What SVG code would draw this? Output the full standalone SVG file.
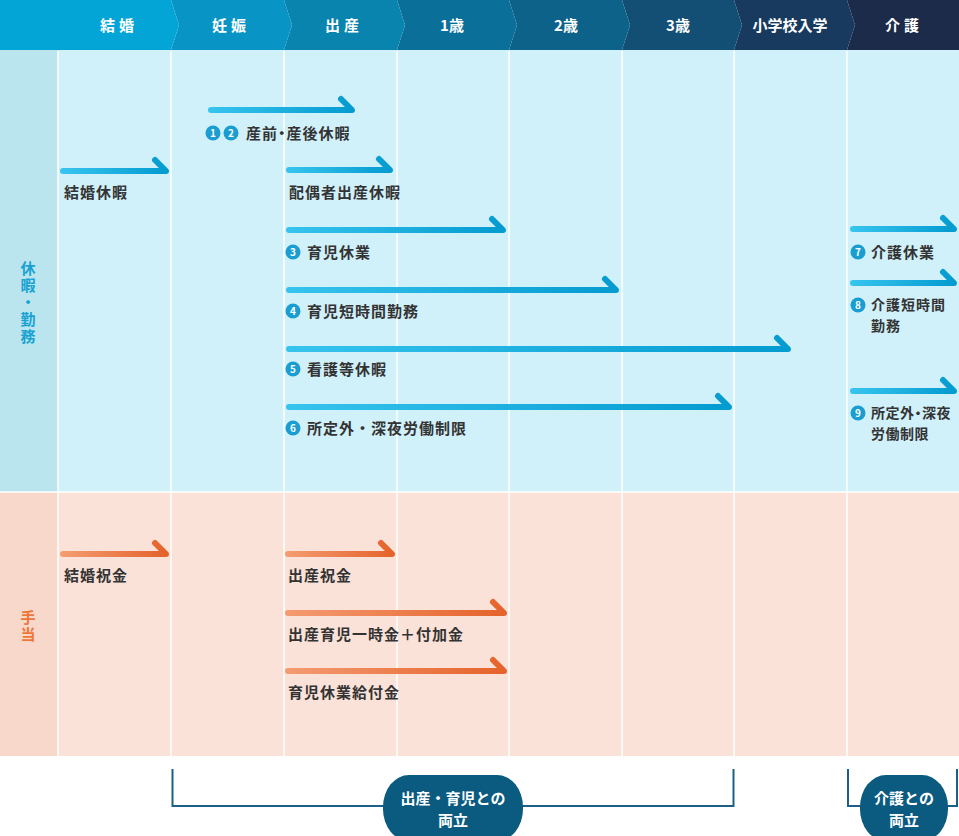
<svg xmlns="http://www.w3.org/2000/svg" width="959" height="836" viewBox="0 0 959 836">
<style>
text{font-family:"Noto Sans CJK JP","Noto Sans",sans-serif;font-weight:700}
.hd{fill:#fff;font-size:15px;text-anchor:middle}
.lb{fill:#333;font-size:15px;letter-spacing:1px}
.l2{font-size:14px}
.pa{font-feature-settings:"palt"}
.cn{fill:#fff;font-size:10px;text-anchor:middle}
.nc{fill:#1a9dd0}
.ab{fill:none;stroke:url(#gb);stroke-width:6;stroke-linecap:round;stroke-linejoin:round}
.ap{fill:none;stroke:url(#gp);stroke-width:6;stroke-linecap:round;stroke-linejoin:round}
.div{stroke:#fff;stroke-width:1.5}
.br{fill:none;stroke:#1e5f88;stroke-width:2}
.pill{fill:#0b5a80}
.pt{fill:#fff;font-size:15px;text-anchor:middle}
.vt{font-size:15px;text-anchor:middle;writing-mode:vertical-rl;letter-spacing:2px}
.sb{fill:#17a2d3}
.sp{fill:#ee7637}
</style>
<defs>
<linearGradient id="gb" x1="0" y1="0" x2="1" y2="0"><stop offset="0" stop-color="#36c4ee"/><stop offset="1" stop-color="#049bd0"/></linearGradient>
<linearGradient id="gp" x1="0" y1="0" x2="1" y2="0"><stop offset="0" stop-color="#f49b71"/><stop offset="1" stop-color="#e5632b"/></linearGradient>
</defs>

<g id="bands">
<rect x="0" y="50" width="959" height="442" fill="#d0f0fa"/>
<rect x="0" y="50" width="58" height="442" fill="#bae5ef"/>
<rect x="0" y="492" width="959" height="264" fill="#fbe2d8"/>
<rect x="0" y="492" width="58" height="264" fill="#f7d8ca"/>
<line class="div" x1="0" y1="492" x2="959" y2="492"/>
<line class="div" x1="58" y1="51" x2="58" y2="756"/>
<line class="div" x1="171" y1="51" x2="171" y2="756"/>
<line class="div" x1="284" y1="51" x2="284" y2="756"/>
<line class="div" x1="397" y1="51" x2="397" y2="756"/>
<line class="div" x1="509" y1="51" x2="509" y2="756"/>
<line class="div" x1="622" y1="51" x2="622" y2="756"/>
<line class="div" x1="734" y1="51" x2="734" y2="756"/>
<line class="div" x1="847" y1="51" x2="847" y2="756"/>
</g>

<g id="header">
<polygon points="847,0 959,0 959,50 847,50 855,25" fill="#1c2b4a"/>
<polygon points="734,0 847,0 855,25 847,50 734,50 742,25" fill="#173a5e"/>
<polygon points="622,0 734,0 742,25 734,50 622,50 630,25" fill="#134f75"/>
<polygon points="509,0 622,0 630,25 622,50 509,50 517,25" fill="#0d6289"/>
<polygon points="397,0 509,0 517,25 509,50 397,50 405,25" fill="#0a6f99"/>
<polygon points="284,0 397,0 405,25 397,50 284,50 292,25" fill="#0884af"/>
<polygon points="171,0 284,0 292,25 284,50 171,50 179,25" fill="#0895c5"/>
<polygon points="0,0 171,0 179,25 171,50 0,50" fill="#03a5d6"/>
<text class="hd" x="119" y="31" style="letter-spacing:4px">結婚</text>
<text class="hd" x="231" y="31" style="letter-spacing:4px">妊娠</text>
<text class="hd" x="344" y="31" style="letter-spacing:4px">出産</text>
<text class="hd" x="452" y="31">1歳</text>
<text class="hd" x="566" y="31">2歳</text>
<text class="hd" x="678" y="31">3歳</text>
<text class="hd" x="790" y="31">小学校入学</text>
<text class="hd" x="904" y="31" style="letter-spacing:4px">介護</text>
</g>

<g id="section-labels">
<text class="vt sb" x="28" y="303">休暇・勤務</text>
<text class="vt sp" x="28" y="627">手当</text>
</g>

<g id="connectors">
<path class="ab" d="M211,110 H352 L341,99"/>
<path class="ab" d="M63,171 H166 L155,160"/>
<path class="ab" d="M289,170 H390 L379,159"/>
<path class="ab" d="M289,230 H503 L492,219"/>
<path class="ab" d="M289,290 H616 L605,279"/>
<path class="ab" d="M289,349 H788 L777,338"/>
<path class="ab" d="M289,407 H729 L718,396"/>
<path class="ab" d="M853,229 H954 L943,218"/>
<path class="ab" d="M853,283 H954 L943,272"/>
<path class="ab" d="M853,391 H954 L943,380"/>
<path class="ap" d="M63,554 H166 L155,543"/>
<path class="ap" d="M288,554 H392 L381,543"/>
<path class="ap" d="M288,613 H504 L493,602"/>
<path class="ap" d="M288,671 H504 L493,660"/>
</g>

<g id="n-sanzengo">
<circle class="nc" cx="213" cy="133" r="7.5"/><text class="cn" x="213" y="136.5">1</text>
<circle class="nc" cx="231" cy="133" r="7.5"/><text class="cn" x="231" y="136.5">2</text>
<text class="lb pa" x="246" y="138.5">産前・産後休暇</text>
</g>
<g id="n-kekkon-kyuka"><text class="lb" x="64" y="197.5">結婚休暇</text></g>
<g id="n-haigusha"><text class="lb" x="289" y="197.5">配偶者出産休暇</text></g>
<g id="n-ikuji-kyugyo">
<circle class="nc" cx="293" cy="252" r="7.5"/><text class="cn" x="293" y="255.5">3</text>
<text class="lb" x="307" y="257.5">育児休業</text>
</g>
<g id="n-ikuji-tanjikan">
<circle class="nc" cx="293" cy="311" r="7.5"/><text class="cn" x="293" y="314.5">4</text>
<text class="lb" x="307" y="316.5">育児短時間勤務</text>
</g>
<g id="n-kango">
<circle class="nc" cx="293" cy="369" r="7.5"/><text class="cn" x="293" y="372.5">5</text>
<text class="lb" x="307" y="374.5">看護等休暇</text>
</g>
<g id="n-shoteigai">
<circle class="nc" cx="293" cy="428" r="7.5"/><text class="cn" x="293" y="431.5">6</text>
<text class="lb" x="307" y="433.5">所定外・深夜労働制限</text>
</g>
<g id="n-kaigo-kyugyo">
<circle class="nc" cx="858" cy="252" r="7.5"/><text class="cn" x="858" y="255.5">7</text>
<text class="lb" x="871" y="257.5">介護休業</text>
</g>
<g id="n-kaigo-tanjikan">
<circle class="nc" cx="858" cy="305" r="7.5"/><text class="cn" x="858" y="308.5">8</text>
<text class="lb l2" x="871" y="310">介護短時間<tspan x="871" dy="20.5">勤務</tspan></text>
</g>
<g id="n-kaigo-shoteigai">
<circle class="nc" cx="858" cy="413" r="7.5"/><text class="cn" x="858" y="416.5">9</text>
<text class="lb l2 pa" x="871" y="418" style="letter-spacing:0.5px">所定外・深夜<tspan x="871" dy="20.5">労働制限</tspan></text>
</g>
<g id="n-kekkon-iwaikin"><text class="lb" x="64" y="580.5">結婚祝金</text></g>
<g id="n-shussan-iwaikin"><text class="lb" x="288" y="580.5">出産祝金</text></g>
<g id="n-ichijikin"><text class="lb" x="288" y="639.5">出産育児一時金＋付加金</text></g>
<g id="n-kyufukin"><text class="lb" x="288" y="697.5">育児休業給付金</text></g>

<g id="bracket-ikuji">
<path class="br" d="M172.5,769 V806 H733.5 V769"/>
<rect class="pill" x="383" y="775" width="140" height="66" rx="26" ry="32"/>
<text class="pt" x="453" y="803.5">出産・育児との<tspan x="453" dy="22.5">両立</tspan></text>
</g>
<g id="bracket-kaigo">
<path class="br" d="M848,769 V806 H957 V769"/>
<rect class="pill" x="860" y="775" width="88" height="66" rx="26" ry="32"/>
<text class="pt" x="904" y="803.5">介護との<tspan x="904" dy="22.5">両立</tspan></text>
</g>
</svg>
